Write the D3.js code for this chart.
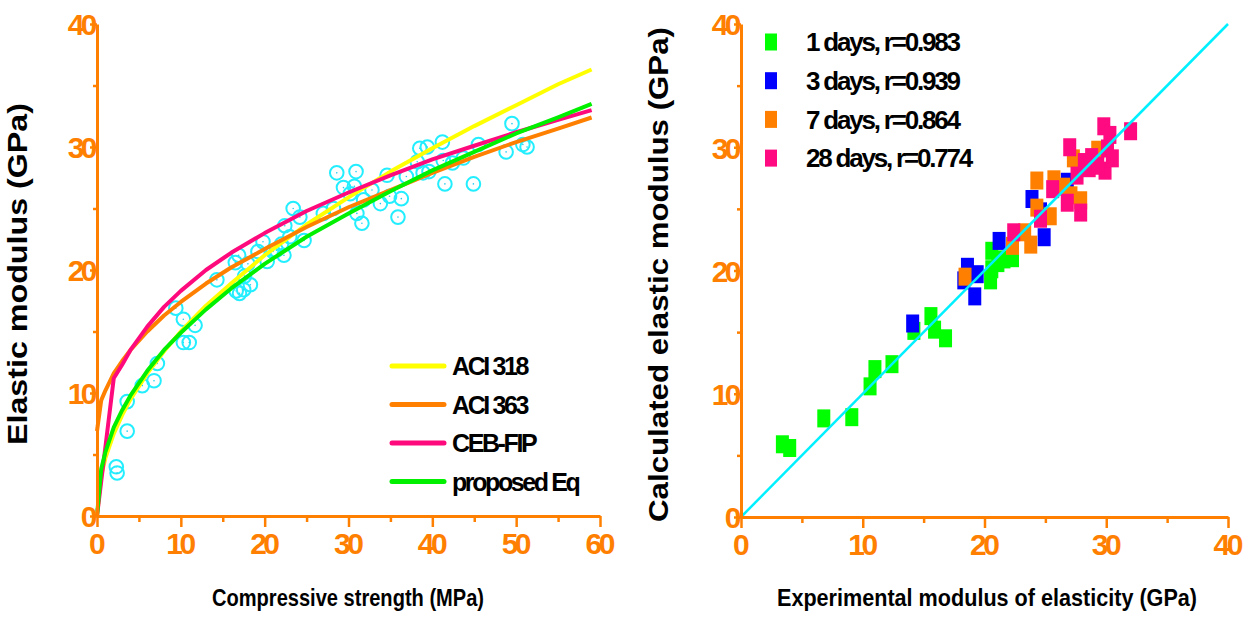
<!DOCTYPE html>
<html><head><meta charset="utf-8">
<script src="https://cdn.jsdelivr.net/npm/d3@7"></script>
<style>
html,body{margin:0;padding:0;background:#fff;}
svg{display:block;font-family:"Liberation Sans",Arial,sans-serif;}
.tick text{font-family:"Liberation Sans",Arial,sans-serif;font-weight:bold;font-size:30px;fill:#ff8000;letter-spacing:-3.5px;}
</style></head>
<body>
<svg id="chart" width="1255" height="619"></svg>
<script>
// ---------- Left panel data ----------
const fcGrid   = [0, 0.5, 1, 2, 3, 4, 6, 8, 10, 13, 16, 20, 25, 30, 35, 40, 45, 50, 55, 59];
const aci318   = [0, 3.3, 4.7, 6.7, 8.2, 9.5, 11.6, 13.4, 15.0, 17.1, 18.9, 21.2, 23.7, 25.9, 28.0, 29.9, 31.7, 33.4, 35.1, 36.3];
const aci363   = [6.9, 9.4, 10.2, 11.6, 12.6, 13.5, 15.0, 16.3, 17.4, 18.9, 20.2, 21.7, 23.5, 25.1, 26.5, 27.9, 29.2, 30.4, 31.5, 32.4];
const cebFip   = [0, 2.8, 5.6, 11.2, 12.3, 13.5, 15.4, 17.0, 18.3, 20.0, 21.4, 23.0, 24.8, 26.3, 27.7, 29.0, 30.1, 31.2, 32.2, 33.0];
const proposed = [0, 3.8, 5.2, 7.2, 8.6, 9.8, 11.8, 13.5, 14.9, 16.8, 18.5, 20.5, 22.7, 24.6, 26.4, 28.1, 29.6, 31.1, 32.4, 33.5];
const curveNames = ["ACI 318", "ACI 363", "CEB-FIP", "proposed Eq"];
const curveColors = ["#ffff00", "#ff8000", "#ff0a7c", "#00f000"];

const expFc = [2.3, 2.4, 3.6, 3.6, 5.4, 6.8, 7.2, 9.4, 10.3, 11.7, 10.3, 11.0, 14.3, 16.5, 16.6, 17.0, 17.5, 18.3, 17.6, 18.0,
  19.2, 19.8, 21.0, 20.3, 21.4, 22.3, 22.4, 23.4, 24.2, 24.7, 23.0, 27.0, 28.2, 28.6, 29.4, 30.9, 30.7, 31.0, 31.6, 31.8,
  32.8, 33.8, 34.6, 34.9, 35.9, 36.3, 36.9, 38.5, 39.4, 38.2, 38.9, 39.6, 41.2, 41.3, 41.5, 42.4, 43.7, 44.9, 45.5, 48.8,
  49.5, 50.8, 51.3, 22.0, 30.2, 16.9];
const expE = [4.0, 3.5, 6.9, 9.3, 10.6, 11.0, 12.4, 16.9, 16.0, 15.5, 14.1, 14.1, 19.2, 20.6, 18.3, 18.1, 18.4, 18.8, 19.5, 20.5,
  21.5, 22.3, 21.5, 20.7, 21.6, 21.2, 23.6, 25.0, 24.3, 22.4, 22.7, 24.6, 25.0, 27.9, 26.7, 28.0, 26.8, 24.6, 23.8, 25.7,
  26.5, 25.4, 27.7, 26.0, 24.3, 25.8, 27.6, 29.9, 30.0, 28.8, 27.9, 28.0, 30.4, 28.9, 27.0, 28.7, 29.1, 27.0, 30.2, 29.6,
  31.9, 30.2, 30.0, 22.1, 26.2, 21.2];

// ---------- Right panel data ----------
const groupNames = ["1 days, r=0.983", "3 days, r=0.939", "7 days, r=0.864", "28 days, r=0.774"];
const groupColors = ["#00ff00", "#0000ff", "#ff8000", "#ff0a80"];
const d1x = [3.4, 4.0, 6.8, 9.1, 10.6, 11.0, 12.4, 14.2, 15.6, 15.9, 16.8, 20.6, 20.5, 20.6, 21.6, 22.3, 21.1];
const d1y = [5.9, 5.6, 8.0, 8.1, 10.6, 12.0, 12.4, 15.1, 16.3, 15.2, 14.5, 21.6, 19.2, 20.1, 20.9, 21.0, 20.6];
const d3x = [14.1, 18.6, 18.3, 19.4, 19.2, 21.2, 23.9, 24.9, 26.8, 24.6];
const d3y = [15.7, 20.3, 19.2, 19.7, 17.9, 22.4, 25.8, 22.7, 27.2, 24.8];
const d7x = [18.4, 22.3, 23.3, 23.8, 24.3, 24.3, 25.7, 25.4, 26.5, 27.3, 27.9, 29.3, 27.1];
const d7y = [19.5, 22.0, 23.1, 22.1, 27.3, 25.1, 27.4, 24.4, 26.8, 29.1, 25.7, 29.8, 26.1];
const d28x = [22.4, 24.6, 25.6, 26.8, 27.0, 27.9, 27.6, 28.6, 28.8, 29.8, 30.1, 29.9, 30.5, 30.3, 32.0, 29.3, 28.2];
const d28y = [23.1, 24.2, 26.6, 25.5, 30.0, 24.7, 27.7, 28.3, 29.2, 31.7, 29.9, 28.1, 29.1, 31.0, 31.3, 28.5, 28.8];
const lineOfEquality = [0, 40];

const majorTicks = [0, 10, 20, 30, 40];
const minorTicks = [5, 15, 25, 35];
const majorTicksX60 = [0, 10, 20, 30, 40, 50, 60];
const minorTicksX60 = [5, 15, 25, 35, 45, 55];

// ---------- Drawing ----------
const svg = d3.select("#chart");
const AX = "#ff8000";

function drawAxes(g, x, y, xMaj, xMin, yMaj, yMin, xTitle, yTitle, xTitleCx, xTitleLen, yTitleCx, yTitleLen) {
  const h = y.range()[0];
  g.append("g").attr("transform", `translate(0,${h})`)
    .call(d3.axisBottom(x).tickValues(xMin).tickSize(6).tickSizeOuter(0).tickFormat(""))
    .call(s => s.select(".domain").remove());
  g.append("g").attr("transform", `translate(${x.range()[0]},0)`)
    .call(d3.axisLeft(y).tickValues(yMin).tickSize(4).tickSizeOuter(0).tickFormat(""))
    .call(s => s.select(".domain").remove());
  const xa = g.append("g").attr("transform", `translate(0,${h})`)
    .call(d3.axisBottom(x).tickValues(xMaj).tickSize(11).tickSizeOuter(0).tickFormat(d3.format("d")));
  const ya = g.append("g").attr("transform", `translate(${x.range()[0]},0)`)
    .call(d3.axisLeft(y).tickValues(yMaj).tickSize(7).tickSizeOuter(0).tickFormat(d3.format("d")));
  [xa, ya].forEach(a => {
    a.attr("font-family", null).attr("font-size", null);
    a.select(".domain").attr("stroke", AX).attr("stroke-width", 3);
  });
  xa.selectAll(".tick text").attr("dy", "0.71em").attr("y", 17).attr("dx", "-0.06em");
  ya.selectAll(".tick text").attr("x", -3).attr("dy", "0.36em");
  g.selectAll(".tick line").attr("stroke", AX).attr("stroke-width", 2.5);
  g.append("text").attr("x", xTitleCx).attr("y", 606).attr("text-anchor", "middle")
    .attr("font-size", 24).attr("font-weight", "bold").attr("fill", "#000")
    .attr("textLength", xTitleLen).attr("lengthAdjust", "spacingAndGlyphs").text(xTitle);
  g.append("text").attr("transform", `translate(${yTitleCx},${(y.range()[0] + y.range()[1]) / 2 + 4}) rotate(-90)`)
    .attr("text-anchor", "middle").attr("font-size", 27).attr("font-weight", "bold").attr("fill", "#000")
    .attr("textLength", yTitleLen).attr("lengthAdjust", "spacingAndGlyphs").text(yTitle);
}

// Left panel
const xL = d3.scaleLinear().domain([0, 60]).range([97, 600]);
const yL = d3.scaleLinear().domain([0, 40]).range([516, 24]);
const gL = svg.append("g");

const circ = gL.append("g");
expFc.forEach((v, i) => {
  circ.append("circle").attr("cx", xL(v)).attr("cy", yL(expE[i])).attr("r", 6.8)
    .attr("fill", "none").attr("stroke", "#22eeff").attr("stroke-width", 2);
  circ.append("circle").attr("cx", xL(v)).attr("cy", yL(expE[i])).attr("r", 0.8).attr("fill", "#22ccee");
});

const curves = [aci318, aci363, cebFip, proposed];
const lineL = d3.line().x(d => xL(d[0])).y(d => yL(d[1]));
curves.forEach((vals, k) => {
  gL.append("path").datum(fcGrid.map((f, i) => [f, vals[i]]))
    .attr("d", lineL).attr("fill", "none").attr("stroke", curveColors[k])
    .attr("stroke-width", 4).attr("stroke-linejoin", "round");
});

drawAxes(gL, xL, yL, majorTicksX60, minorTicksX60, majorTicks, minorTicks,
  "Compressive strength (MPa)", "Elastic modulus (GPa)", 348, 272, 27, 342);

const legL = gL.append("g");
curveNames.forEach((n, k) => {
  const yy = 366 + k * 38.5;
  legL.append("line").attr("x1", 392).attr("x2", 444).attr("y1", yy).attr("y2", yy)
    .attr("stroke", curveColors[k]).attr("stroke-width", 5).attr("stroke-linecap", "round");
  legL.append("text").attr("x", 452).attr("y", yy).attr("dy", "0.36em")
    .attr("font-size", 25).attr("font-weight", "bold").attr("fill", "#000")
    .attr("letter-spacing", "-2.4px").text(n);
});

// Right panel
const xR = d3.scaleLinear().domain([0, 40]).range([741, 1228]);
const yR = d3.scaleLinear().domain([0, 40]).range([517, 24]);
const gR = svg.append("g");
const groups = [[d1x, d1y], [d3x, d3y], [d7x, d7y], [d28x, d28y]];
groups.forEach((gxy, k) => {
  gR.append("g").selectAll("rect").data(gxy[0].map((v, i) => [v, gxy[1][i]])).join("rect")
    .attr("x", d => xR(d[0]) - 6.5).attr("y", d => yR(d[1]) - 9)
    .attr("width", 13).attr("height", 18).attr("fill", groupColors[k]);
});
gR.append("line").attr("x1", xR(lineOfEquality[0])).attr("y1", yR(lineOfEquality[0]))
  .attr("x2", xR(lineOfEquality[1])).attr("y2", yR(lineOfEquality[1]))
  .attr("stroke", "#00f0ff").attr("stroke-width", 2.5);

drawAxes(gR, xR, yR, majorTicks, minorTicks, majorTicks, minorTicks,
  "Experimental modulus of elasticity (GPa)", "Calculated elastic modulus (GPa)", 987, 420, 668, 495);

const legR = gR.append("g");
groupNames.forEach((n, k) => {
  const yy = 42 + k * 38.7;
  legR.append("rect").attr("x", 765).attr("y", yy - 8.5).attr("width", 12).attr("height", 17).attr("fill", groupColors[k]);
  legR.append("text").attr("x", 806).attr("y", yy).attr("dy", "0.36em")
    .attr("font-size", 26).attr("font-weight", "bold").attr("fill", "#000")
    .attr("letter-spacing", "-2.2px").text(n);
});
</script>
</body></html>
